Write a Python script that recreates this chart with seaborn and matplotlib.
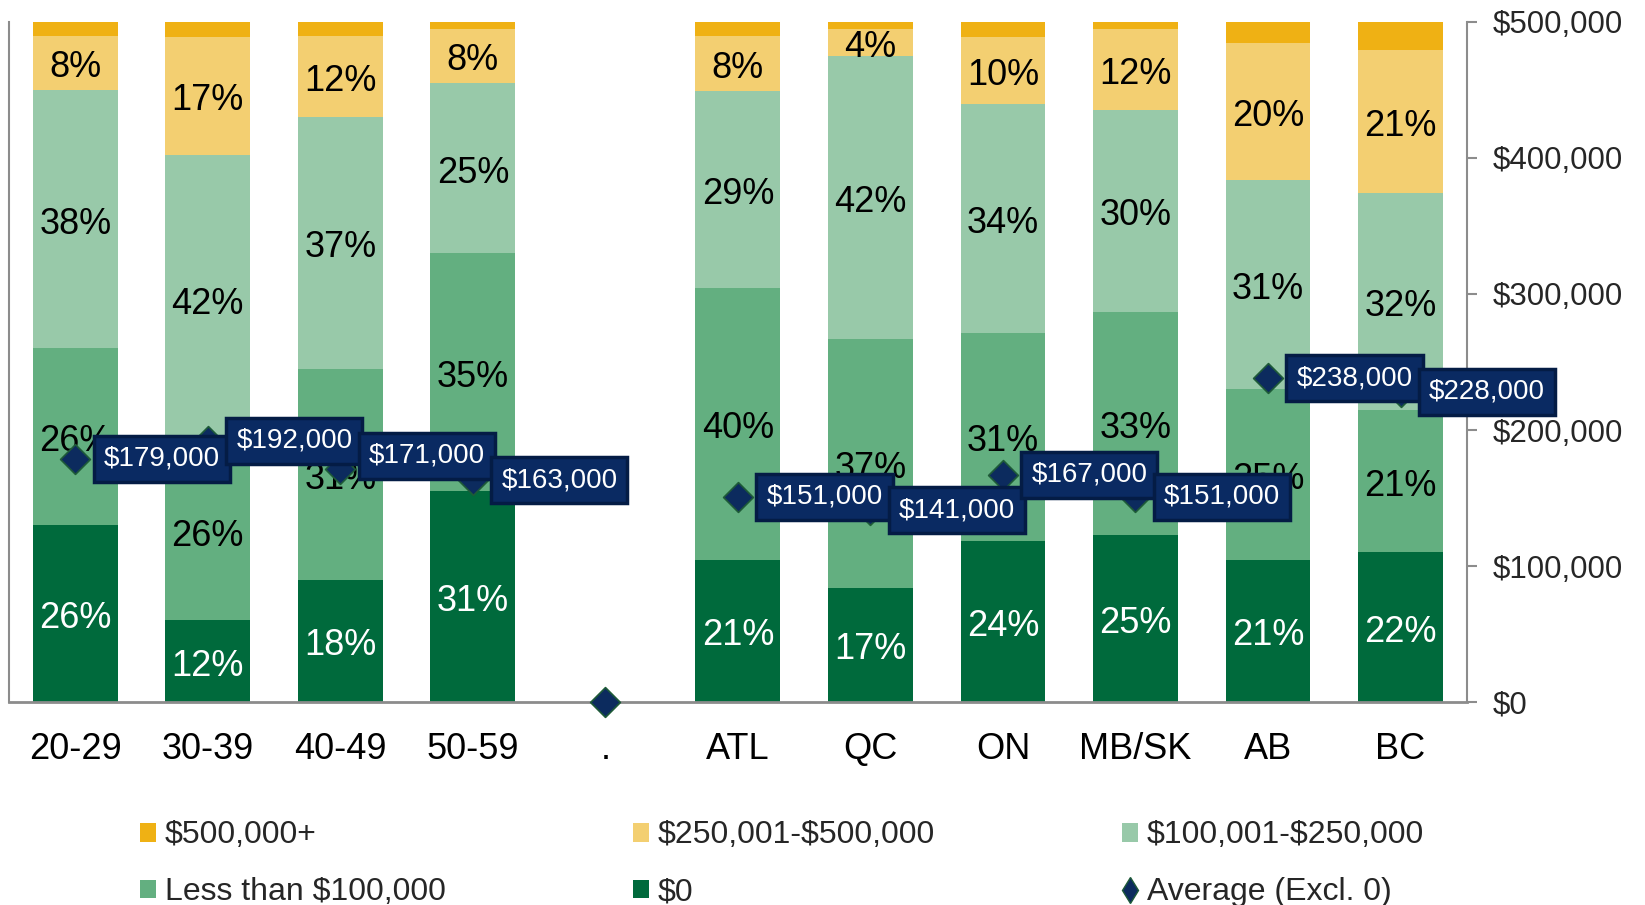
import matplotlib
matplotlib.use("Agg")
import matplotlib.pyplot as plt
import seaborn as sns
import numpy as np
from matplotlib.ticker import FuncFormatter
from matplotlib.lines import Line2D
from matplotlib.patches import Patch

# ---- data (percent of respondents per bucket, average in $) ----
cats = ["20-29", "30-39", "40-49", "50-59", ".", "ATL", "QC", "ON", "MB/SK", "AB", "BC"]
zero = [26.0, 12.0, 18.0, 31.0, 0, 20.9, 16.8, 23.7, 24.6, 20.9, 22.0]
under_100k = [26.0, 26.0, 31.0, 35.0, 0, 40.0, 36.6, 30.6, 32.8, 25.1, 20.9]
k100_250 = [38.0, 42.4, 37.0, 25.0, 0, 29.0, 41.6, 33.7, 29.7, 30.8, 31.9]
k250_500 = [8.0, 17.4, 12.0, 8.0, 0, 8.0, 4.0, 9.8, 11.8, 20.1, 21.1]
k500_plus = [2.0, 2.2, 2.0, 1.0, 0, 2.1, 1.0, 2.2, 1.1, 3.1, 4.1]
avg_excl0 = [179000, 192000, 171000, 163000, 0, 151000, 141000, 167000, 151000, 238000, 228000]

seg_names = ["$0", "Less than $100,000", "$100,001-$250,000", "$250,001-$500,000", "$500,000+"]
seg_vals = [zero, under_100k, k100_250, k250_500, k500_plus]
seg_colors = ["#006A3C", "#63AF80", "#98C9A9", "#F3CF71", "#EFB114"]
label_colors = ["white", "black", "black", "black", None]

navy = "#0C2B5E"
box_fc = "#0A2A62"
box_ec = "#041C45"
gray = "#8C8C8C"

sns.set_theme(style="white")
plt.rcParams["font.family"] = ["Liberation Sans", "DejaVu Sans"]

fig = plt.figure(figsize=(16.45, 9.05), dpi=100)
ax = fig.add_axes([0.00547, 0.2243, 0.8862, 0.7514])

bottom = np.zeros(len(cats))
for name, vals, col, lc in zip(seg_names, seg_vals, seg_colors, label_colors):
    sns.barplot(x=cats, y=vals, bottom=bottom, color=col, width=0.64,
                linewidth=0, saturation=1, ax=ax, order=cats)
    cont = ax.containers[-1]
    if lc is not None:
        # percent labels centred in each segment (slightly lowered, like Excel)
        for rect, v in zip(cont, vals):
            if v <= 0:
                continue
            ax.annotate(f"{v:.0f}%",
                        xy=(rect.get_x() + rect.get_width() / 2,
                            rect.get_y() + rect.get_height() / 2),
                        xytext=(0, -3.5), textcoords="offset points",
                        ha="center", va="center", color=lc, fontsize=26)
    bottom = bottom + np.array(vals)

ax.set_ylim(0, 100)
ax.set_xlim(-0.5, 10.5)
ax.set_yticks([])
ax.set_xlabel("")
ax.set_ylabel("")
ax.tick_params(axis="x", length=0, pad=21.5, labelsize=26, colors="black")
for s in ["top", "right"]:
    ax.spines[s].set_visible(False)
ax.spines["left"].set_color(gray)
ax.spines["left"].set_linewidth(1.5)
ax.spines["bottom"].set_color(gray)
ax.spines["bottom"].set_linewidth(2)

# ---- average markers on a secondary axis ----
ax2 = ax.twinx()
sns.scatterplot(x=cats, y=avg_excl0, marker="D", s=230, color=navy,
                edgecolor="#1E5A38", linewidth=1.2, ax=ax2, zorder=5, clip_on=False)
ax2.set_ylim(0, 500000)
ax2.set_yticks(np.arange(0, 500001, 100000))
ax2.yaxis.set_major_formatter(FuncFormatter(lambda v, p: f"${v:,.0f}"))
ax2.tick_params(axis="y", direction="out", length=7, width=1.5, color=gray,
                pad=12, labelsize=22.5, right=True)
for s in ["top", "left", "bottom"]:
    ax2.spines[s].set_visible(False)
ax2.spines["right"].set_color(gray)
ax2.spines["right"].set_linewidth(1.5)

nudge = {2: 10}
for i, v in enumerate(avg_excl0):
    if v == 0:
        continue
    ax2.annotate(f"${v:,.0f}", xy=(i, v), xytext=(20.5, nudge.get(i, 0)),
                 textcoords="offset points", ha="left", va="center",
                 color="white", fontsize=20, zorder=6,
                 bbox=dict(boxstyle="square,pad=0.36", fc=box_fc, ec=box_ec, lw=2.5))

# ---- legend ----
h = {n: Patch(facecolor=c, edgecolor="none") for n, c in zip(seg_names, seg_colors)}
avg_h = Line2D([], [], marker="d", linestyle="none", color=navy,
               markeredgecolor="#1E5A38", markersize=13)
handles = [h["$500,000+"], h["Less than $100,000"], h["$250,001-$500,000"],
           h["$0"], h["$100,001-$250,000"], avg_h]
labels = ["$500,000+", "Less than $100,000", "$250,001-$500,000",
          "$0", "$100,001-$250,000", "Average (Excl. 0)"]
labels = [l.replace("$", r"\$") for l in labels]
fig.legend(handles, labels, ncol=3, loc="upper left", bbox_to_anchor=(0.0773, 0.1075),
           frameon=False, fontsize=23, handlelength=0.5, handleheight=0.53,
           handletextpad=0.28, columnspacing=5.85, labelspacing=0.84, borderaxespad=0)

fig.savefig("out.png", dpi=100)
